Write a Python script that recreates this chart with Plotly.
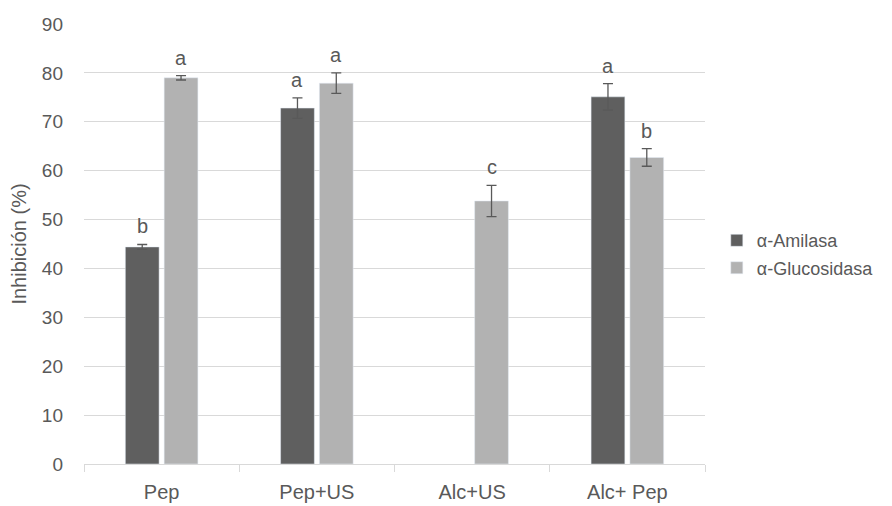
import plotly.graph_objects as go

categories = ["Pep", "Pep+US", "Alc+US", "Alc+ Pep"]
amilasa = [44.4, 72.8, None, 75.1]
amilasa_err = [0.5, 2.1, None, 2.7]
amilasa_letters = ["b", "a", None, "a"]
glucosidasa = [79.0, 77.9, 53.8, 62.7]
glucosidasa_err = [0.45, 2.1, 3.2, 1.8]
glucosidasa_letters = ["a", "a", "c", "b"]
y_ticks = [0, 10, 20, 30, 40, 50, 60, 70, 80, 90]

FONT = "Liberation Sans, Arial, sans-serif"
TXT = "#595959"
xs = list(range(len(categories)))

fig = go.Figure()
fig.add_trace(go.Bar(
    x=xs, y=amilasa, name="α-Amilasa", marker_color="#5f5f5f",
    legendgroup="a",
    error_y=dict(type="data", array=amilasa_err, color="#595959", thickness=1.3, width=5),
))
fig.add_trace(go.Bar(
    x=xs, y=glucosidasa, name="α-Glucosidasa", marker_color="#b2b2b2",
    legendgroup="g",
    error_y=dict(type="data", array=glucosidasa_err, color="#595959", thickness=1.3, width=5),
))

bargap = 0.5
groupgap = 0.13
slot = (1 - bargap) / 2
offsets = [-slot / 2, slot / 2]
for off, vals, errs, letters in [
    (offsets[0], amilasa, amilasa_err, amilasa_letters),
    (offsets[1], glucosidasa, glucosidasa_err, glucosidasa_letters),
]:
    for i, (v, e, l) in enumerate(zip(vals, errs, letters)):
        if v is None or l is None:
            continue
        fig.add_annotation(x=i + off, y=v + e, text=l, showarrow=False,
                           xref="x", yref="y", yanchor="bottom", yshift=5,
                           font=dict(family=FONT, size=20, color=TXT))

# the page body has an 8px margin: size the figure to fill the rest of the window
fig.update_layout(
    width=884, height=498,
    margin=dict(l=76, r=187, t=16, b=42, autoexpand=False),
    plot_bgcolor="white", paper_bgcolor="white",
    barmode="group", bargap=bargap, bargroupgap=groupgap,
    font=dict(family=FONT, size=18, color=TXT),
    showlegend=True,
    legend=dict(x=1.019, y=0.477, yanchor="middle", xanchor="left",
                font=dict(family=FONT, size=18, color=TXT),
                tracegroupgap=1, itemwidth=30),
)
fig.update_xaxes(
    automargin=False,
    range=[-0.5, len(categories) - 0.5],
    tickmode="array", tickvals=xs, ticktext=categories, ticks="",
    ticklabelstandoff=10,
    showgrid=False, zeroline=False,
    showline=True, linecolor="#d9d9d9", linewidth=1.3,
    tickfont=dict(family=FONT, size=20, color=TXT),
    minor=dict(ticks="outside", tick0=-0.5, dtick=1, ticklen=7,
               tickcolor="#d9d9d9", tickwidth=1.3, showgrid=False),
)
fig.update_yaxes(
    automargin=False,
    range=[0, 90], tickmode="array", tickvals=y_ticks,
    showgrid=True, gridcolor="#d9d9d9", gridwidth=1.3,
    zeroline=False, showline=False, ticks="",
    ticklabelstandoff=20,
    tickfont=dict(family=FONT, size=19, color=TXT),
    title=dict(text="Inhibición (%)", font=dict(family=FONT, size=20, color=TXT), standoff=10),
)
fig.write_html("out.html")
